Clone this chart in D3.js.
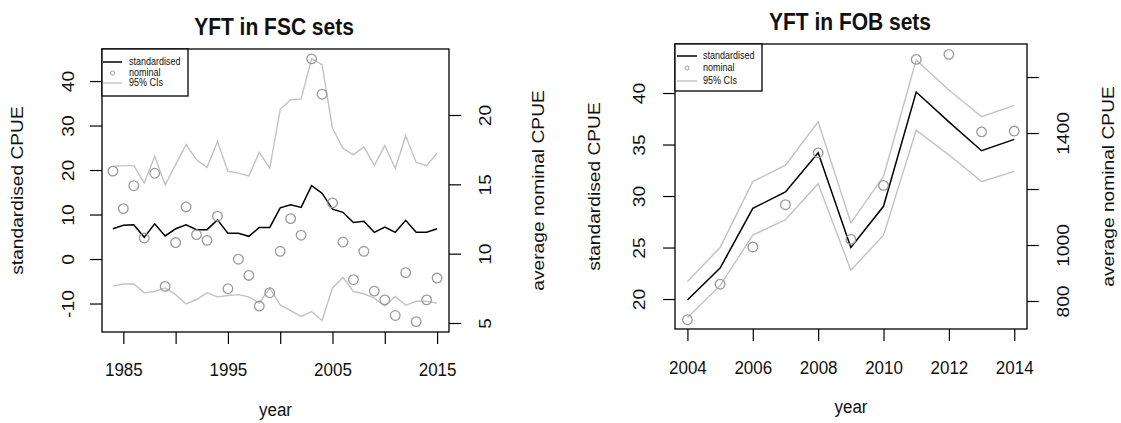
<!DOCTYPE html>
<html><head><meta charset="utf-8">
<script src="https://cdn.jsdelivr.net/npm/d3@7"></script>
<style>
body{margin:0;background:#fff}
svg{display:block}
text{font-family:Arial,"Liberation Sans",sans-serif;fill:#111}
</style>
</head><body>
<svg id="chart" width="1121" height="423"></svg>
<script>
// ---------- FSC panel data ----------
const fscYears = [1984,1985,1986,1987,1988,1989,1990,1991,1992,1993,1994,1995,1996,1997,1998,1999,
                  2000,2001,2002,2003,2004,2005,2006,2007,2008,2009,2010,2011,2012,2013,2014,2015];
const fscStd   = [6.8,7.6,7.7,4.9,7.9,5.2,6.8,7.7,6.6,6.6,8.8,5.8,5.8,5.1,7.1,7.1,
                  11.5,12.2,11.6,16.5,14.8,11.2,10.5,8.2,8.5,6.0,7.2,6.0,8.7,6.0,6.0,6.8];
const fscUpper = [20.8,21.0,21.0,17.1,23.1,16.7,21.2,25.7,22.3,20.6,26.4,19.7,19.3,18.7,24.0,20.4,
                  33.6,35.8,36.0,45.0,43.7,29.4,24.9,23.4,25.2,21.0,25.5,20.4,27.7,21.7,21.0,23.8];
const fscLower = [-6.1,-5.6,-5.6,-7.6,-7.3,-6.5,-8.0,-10.1,-9.1,-7.6,-8.5,-8.2,-8.0,-8.5,-9.9,-6.5,
                  -10.3,-11.6,-12.9,-11.8,-13.8,-6.5,-4.1,-7.3,-7.8,-8.8,-10.6,-8.4,-10.4,-9.5,-9.5,-9.9];
const fscNominal = [15.95,13.25,14.9,11.13,15.8,7.64,10.8,13.37,11.37,10.96,12.7,7.47,9.6,8.43,6.22,7.18,
                    10.17,12.53,11.33,24.05,21.5,13.66,10.84,8.12,10.17,7.3,6.67,5.54,8.63,5.1,6.67,8.24];
const fscXTicks  = [1985,1990,1995,2000,2005,2010,2015];
const fscXLabels = ["1985","","1995","","2005","","2015"];
const fscYTicks  = [-10,0,10,20,30,40];
const fscYLabels = ["-10","0","10","20","30","40"];
const fscY2Ticks = [5,10,15,20];
const fscY2Labels = ["5","10","15","20"];

// ---------- FOB panel data ----------
const fobYears   = [2004,2005,2006,2007,2008,2009,2010,2011,2012,2013,2014];
const fobStd     = [19.9,23.0,28.8,30.4,34.2,25.0,29.0,40.1,37.2,34.4,35.5];
const fobUpper   = [21.7,25.0,31.4,33.0,37.2,27.4,31.9,43.2,40.3,37.7,38.8];
const fobLower   = [18.2,21.3,26.2,27.7,31.2,22.8,26.2,36.4,34.0,31.4,32.4];
const fobNominal = [733,860,993,1144,1329,1020,1213,1663,1681,1404,1407];
const fobXTicks  = [2004,2006,2008,2010,2012,2014];
const fobXLabels = ["2004","2006","2008","2010","2012","2014"];
const fobYTicks  = [20,25,30,35,40];
const fobYLabels = ["20","25","30","35","40"];
const fobY2Ticks = [800,1000,1200,1400,1600];
const fobY2Labels = ["800","1000","","1400",""];

const legendLabels = ["standardised","nominal","95% CIs"];
const titles = ["YFT in FSC sets","YFT in FOB sets"];

// ---------- drawing ----------
const svg = d3.select("#chart");
const S = 1.13; // vertical text stretch of the original raster
const FS = 17;

function hText(g, x, y, str, size, anchor, weight){
  return g.append("text").attr("transform",`translate(${x},${y}) scale(1,${S})`)
    .attr("text-anchor",anchor||"middle").attr("font-size",size)
    .attr("font-weight",weight||"normal").text(str);
}
function vText(g, x, y, str, size){
  return g.append("text").attr("transform",`translate(${x},${y}) rotate(-90) scale(${S},1)`)
    .attr("text-anchor","middle").attr("font-size",size).text(str);
}

function panel(cfg){
  const g = svg.append("g");
  const {L,R,T,B} = cfg.box;
  const x  = d3.scaleLinear().domain(cfg.xDom).range([L,R]);
  const y  = d3.scaleLinear().domain(cfg.yDom).range([B,T]);
  const y2 = d3.scaleLinear().domain(cfg.y2Dom).range([B,T]);

  const lineY = d3.line().x((d,i)=>x(cfg.years[i])).y(d=>y(d));
  g.append("path").datum(cfg.upper).attr("d",lineY).attr("fill","none").attr("stroke","#c2c2c2").attr("stroke-width",1.4);
  g.append("path").datum(cfg.lower).attr("d",lineY).attr("fill","none").attr("stroke","#c2c2c2").attr("stroke-width",1.4);
  g.append("path").datum(cfg.std).attr("d",lineY).attr("fill","none").attr("stroke","#000").attr("stroke-width",1.5);
  g.selectAll("circle.nom").data(cfg.nominal).join("circle").attr("class","nom")
    .attr("cx",(d,i)=>x(cfg.years[i])).attr("cy",d=>y2(d)).attr("r",4.8)
    .attr("fill","none").attr("stroke","#9a9a9a").attr("stroke-width",1.3);

  const styleAxis = a => { a.select(".domain").remove(); a.selectAll("line").attr("stroke","#000").attr("stroke-width",1.2); };
  const ax = g.append("g").attr("transform",`translate(0,${B})`)
    .call(d3.axisBottom(x).tickValues(cfg.xTicks).tickSize(12).tickFormat((d,i)=>cfg.xLabels[i]));
  styleAxis(ax);
  ax.selectAll("text").attr("y",null).attr("dy",null).attr("font-size",FS).attr("font-family",null)
    .attr("transform",`translate(0,${cfg.xLabY}) scale(1,${S})`).attr("fill","#111");

  const ay = g.append("g").attr("transform",`translate(${L},0)`)
    .call(d3.axisLeft(y).tickValues(cfg.yTicks).tickSize(12).tickFormat((d,i)=>cfg.yLabels[i]));
  styleAxis(ay);
  ay.selectAll("text").attr("x",null).attr("dy",null).attr("text-anchor","middle").attr("font-size",FS).attr("font-family",null)
    .attr("transform",`translate(${-cfg.yLabOff},0) rotate(-90) scale(${S},1)`).attr("fill","#111");

  const ay2 = g.append("g").attr("transform",`translate(${R},0)`)
    .call(d3.axisRight(y2).tickValues(cfg.y2Ticks).tickSize(12).tickFormat((d,i)=>cfg.y2Labels[i]));
  styleAxis(ay2);
  ay2.selectAll("text").attr("x",null).attr("dy",null).attr("text-anchor","middle").attr("font-size",FS).attr("font-family",null)
    .attr("transform",`translate(${cfg.y2LabOff},0) rotate(-90) scale(${S},1)`).attr("fill","#111");

  g.append("rect").attr("x",L).attr("y",T).attr("width",R-L).attr("height",B-T)
    .attr("fill","none").attr("stroke","#000").attr("stroke-width",1.3);

  hText(g, cfg.titleX, cfg.titleY, cfg.title, 21, "middle", "bold");
  hText(g, (L+R)/2, cfg.yearY, "year", FS);
  vText(g, cfg.yTitleX, (T+B)/2, "standardised CPUE", FS);
  vText(g, cfg.y2TitleX, (T+B)/2, "average nominal CPUE", FS);

  const lg = cfg.legend;
  g.append("rect").attr("x",L).attr("y",T).attr("width",lg.w).attr("height",lg.h)
    .attr("fill","#fff").attr("stroke","#000").attr("stroke-width",1.3);
  g.append("line").attr("x1",lg.lx1).attr("x2",lg.lx2).attr("y1",lg.rows[0]).attr("y2",lg.rows[0]).attr("stroke","#000").attr("stroke-width",1.5);
  g.append("circle").attr("cx",(lg.lx1+lg.lx2)/2).attr("cy",lg.rows[1]).attr("r",2)
    .attr("fill","none").attr("stroke","#9a9a9a").attr("stroke-width",1);
  g.append("line").attr("x1",lg.lx1).attr("x2",lg.lx2).attr("y1",lg.rows[2]).attr("y2",lg.rows[2]).attr("stroke","#c2c2c2").attr("stroke-width",1.4);
  legendLabels.forEach((t,i)=>{
    g.append("text").attr("transform",`translate(${lg.tx},${lg.rows[i]+3}) scale(1,${S})`)
      .attr("font-size",9).text(t);
  });
}

panel({
  box:{L:102,R:449,T:49,B:332},
  xDom:[1982.96,2016.14], yDom:[-16.4,47.2], y2Dom:[4.35,24.76],
  years:fscYears, std:fscStd, upper:fscUpper, lower:fscLower, nominal:fscNominal,
  xTicks:fscXTicks, xLabels:fscXLabels, yTicks:fscYTicks, yLabels:fscYLabels, y2Ticks:fscY2Ticks, y2Labels:fscY2Labels,
  xLabY:44, yLabOff:28, y2LabOff:42,
  title:titles[0], titleX:274, titleY:35, yearY:416, yTitleX:23, y2TitleX:544,
  legend:{w:86,h:47,lx1:103,lx2:122,tx:129,rows:[62,73,83]}
});
panel({
  box:{L:675,R:1027,T:44,B:329},
  xDom:[2003.62,2014.39], yDom:[17.09,44.76], y2Dom:[700,1718],
  years:fobYears, std:fobStd, upper:fobUpper, lower:fobLower, nominal:fobNominal,
  xTicks:fobXTicks, xLabels:fobXLabels, yTicks:fobYTicks, yLabels:fobYLabels, y2Ticks:fobY2Ticks, y2Labels:fobY2Labels,
  xLabY:45, yLabOff:30, y2LabOff:42,
  title:titles[1], titleX:850, titleY:30, yearY:413, yTitleX:600, y2TitleX:1114,
  legend:{w:87,h:47,lx1:677,lx2:697,tx:703,rows:[56,68,81]}
});
</script>
</body></html>
